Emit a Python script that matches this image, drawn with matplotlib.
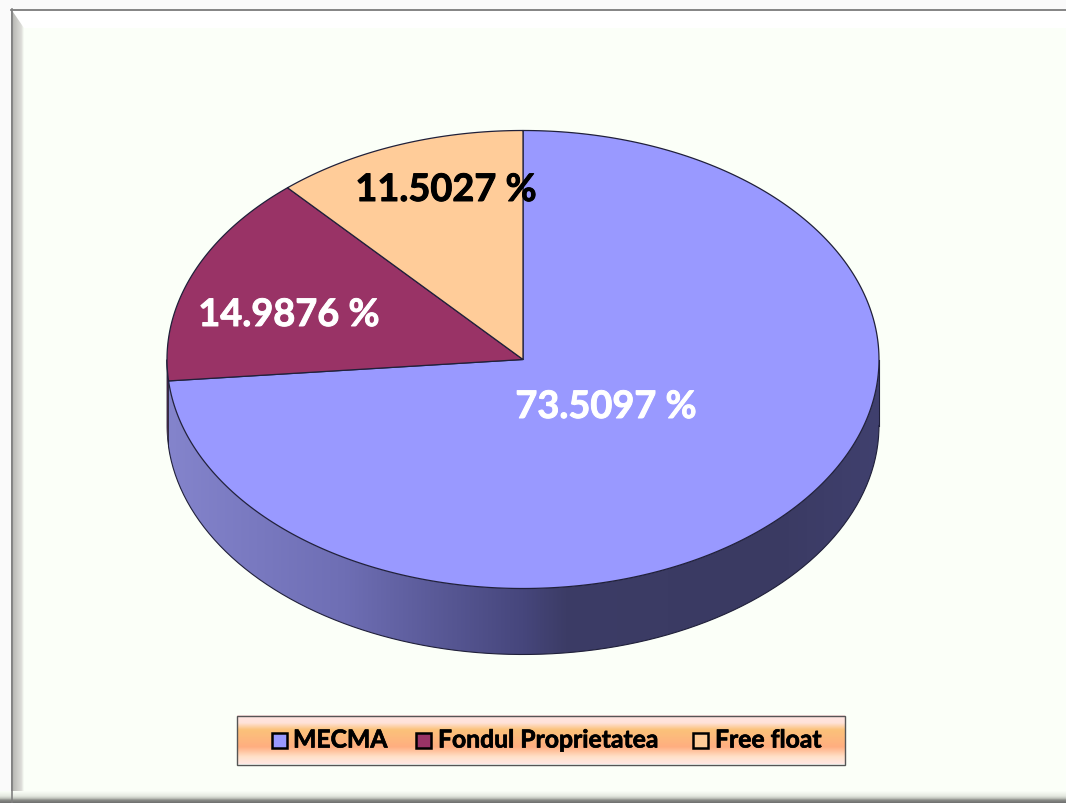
import numpy as np
import matplotlib
matplotlib.use("Agg")
import matplotlib.pyplot as plt
import matplotlib.patheffects as pe
from matplotlib.patches import Polygon, Rectangle
from matplotlib.colors import LinearSegmentedColormap

labels = ["MECMA", "Fondul Proprietatea", "Free float"]
values = [73.5097, 14.9876, 11.5027]
value_text = ["73.5097 %", "14.9876 %", "11.5027 %"]

colors = ["#9999FF", "#993366", "#FFCC99"]
text_colors = ["white", "white", "black"]
label_pos = [(606, 408), (289, 316), (446, 191)]

W, H = 1066, 804
cx, cy, rx, ry, depth = 523, 360.5, 356, 229, 66
edge = "#20203a"

plt.rcParams["font.family"] = ["Lato", "DejaVu Sans"]


def ell(theta):
    # angle is clockwise from 12 o'clock
    return cx + rx * np.sin(theta), cy - ry * np.cos(theta)


def gradient(ax, box, stops, vertical=False, clip=None, zorder=1):
    cmap = LinearSegmentedColormap.from_list("g", stops)
    g = np.linspace(0, 1, 256)
    g = g.reshape(-1, 1) if vertical else g.reshape(1, -1)
    im = ax.imshow(g, cmap=cmap, extent=box, aspect="auto", zorder=zorder, interpolation="bilinear")
    if clip is not None:
        im.set_clip_path(clip)
    return im


fig = plt.figure(figsize=(W / 100, H / 100), dpi=100, facecolor="#FAFAFA")
ax = fig.add_axes([0, 0, 1, 1])
ax.set_xlim(0, W)
ax.set_ylim(H, 0)
ax.axis("off")

# frame with bevel
ax.add_patch(Rectangle((11, 10), W - 11, H - 10, fc="#FBFFF8", ec="none", zorder=0))
gradient(ax, (11, 24, H, 10), [(0, "#8a8a8a"), (0.2, "#bcbcb8"), (0.8, "#dcdcd8"), (1, "#FBFFF8")], zorder=1)
ax.add_patch(Polygon([(11, 10), (W, 10), (W, 29), (24, 29)], fc="white", ec="none", zorder=2))
gradient(ax, (0, W, 804, 792), [(0, "#FBFFF8"), (0.4, "#e6eae2"), (0.6, "#c4c8c0"), (0.75, "#8a8c88"), (1, "#6e6e6e")], vertical=True, zorder=3)
ax.plot([11, W], [10.5, 10.5], color="#707070", lw=1.2, zorder=4)
ax.plot([11.5, 11.5], [10, H], color="#808080", lw=1.2, zorder=4)

# slice angles come from the values
fracs = np.array(values) / sum(values)
edges = np.concatenate([[0], np.cumsum(fracs)]) * 2 * np.pi

# side wall, only the front half of the ellipse shows
th_left = np.pi * 1.5
t_front = np.linspace(np.pi / 2, edges[1], 300)
x, y = ell(t_front)
wall = np.vstack([np.column_stack([x, y]), np.column_stack([x, y + depth])[::-1]])
wall_patch = Polygon(wall, fc="none", ec="none", zorder=5)
ax.add_patch(wall_patch)
gradient(ax, (167, 879, 700, 300),
         [(0, "#8484CC"), (0.25, "#6E6EB4"), (0.5, "#46467C"), (0.56, "#3C3C66"), (0.85, "#3A3A62"), (1, "#40406E")],
         clip=wall_patch, zorder=5)
xo, yo = ell(np.linspace(edges[1], np.pi * 0.5, 300))
ax.plot(xo, yo + depth, color=edge, lw=0.8, zorder=6)
ax.plot([cx + rx, cx + rx], [cy, cy + depth], color=edge, lw=0.8, zorder=6)

# small bit of the second slice wall on the far left
t2 = np.linspace(edges[1], th_left, 60)
x2, y2 = ell(t2)
wall2 = np.vstack([np.column_stack([x2, y2]), np.column_stack([x2, y2 + depth])[::-1]])
ax.add_patch(Polygon(wall2, fc="#5c2a48", ec=edge, lw=0.6, zorder=5))

# top faces
for i in range(3):
    t = np.linspace(edges[i], edges[i + 1], 300)
    xs, ys = ell(t)
    pts = np.vstack([[cx, cy], np.column_stack([xs, ys])])
    ax.add_patch(Polygon(pts, fc=colors[i], ec=edge, lw=0.9, joinstyle="round", zorder=7))
    t_obj = ax.text(label_pos[i][0], label_pos[i][1], value_text[i], color=text_colors[i], fontsize=27.3,
                    fontweight="bold", ha="center", va="center", zorder=8)
    t_obj.set_path_effects([pe.withStroke(linewidth=0.7, foreground=text_colors[i])])

# legend
box = Rectangle((237, 717), 608, 48.5, fc="none", ec="#555555", lw=1, zorder=10)
ax.add_patch(box)
gradient(ax, (237, 845, 765.5, 717),
         [(0, "#FFE6E4"), (0.16, "#FFE2D8"), (0.3, "#FBC27A"), (0.65, "#FFAE80"), (0.85, "#FFE0C8"), (1, "#FFE8E4")],
         vertical=True, zorder=9)
marker_x = [272, 416, 693]
text_x = [293, 438, 715]
for i in range(3):
    ax.add_patch(Rectangle((marker_x[i], 733.5), 15, 15, fc=colors[i], ec="black", lw=1.8, zorder=11))
    t_obj = ax.text(text_x[i], 741, labels[i], fontsize=17.8, fontweight="bold", color="black",
                    ha="left", va="center", zorder=11)
    t_obj.set_path_effects([pe.withStroke(linewidth=0.5, foreground="black")])

ax.set_xlim(0, W)
ax.set_ylim(H, 0)
fig.savefig("out.png", dpi=100)
